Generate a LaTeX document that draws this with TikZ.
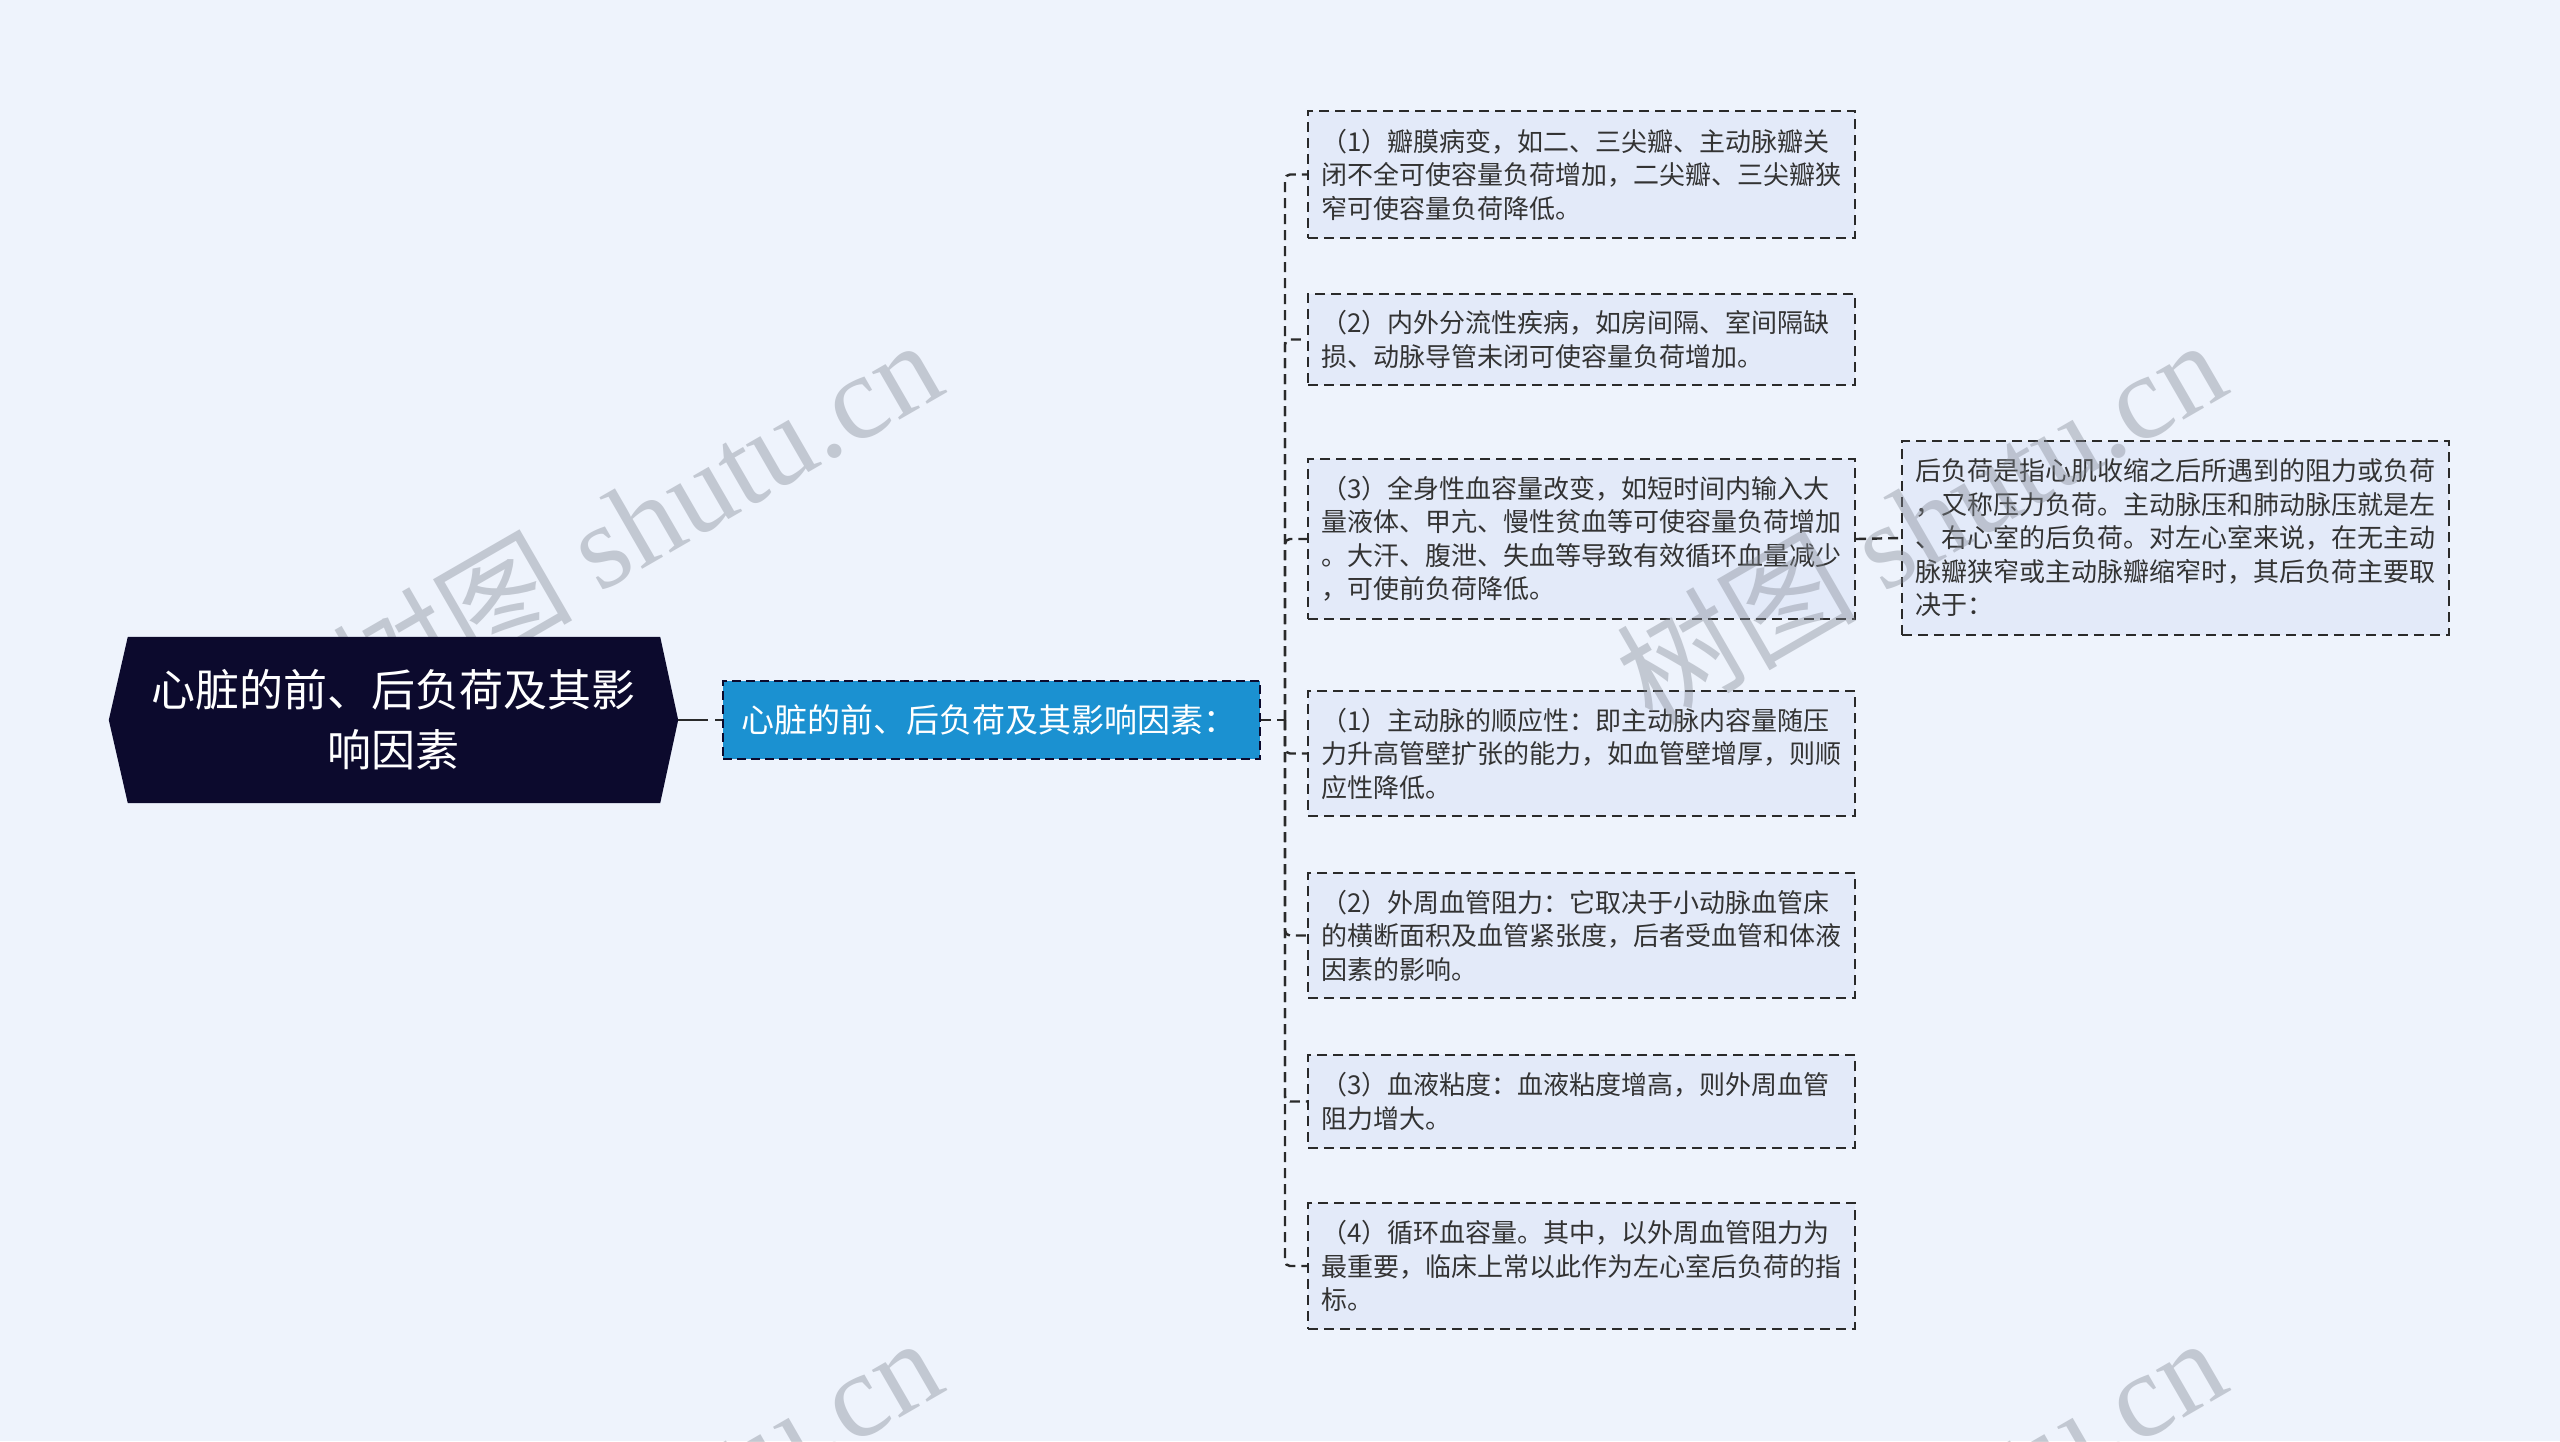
\documentclass[tikz,border=0pt]{standalone}
\usepackage{fontspec}
\setmainfont{Noto Sans CJK SC}
\newfontfamily\wmlatin{Liberation Serif}
\usetikzlibrary{backgrounds}
\definecolor{bgc}{HTML}{EEF3FC}
\definecolor{boxc}{HTML}{E3EAF9}
\definecolor{bordc}{HTML}{2A2A2A}
\definecolor{txtc}{HTML}{333333}
\definecolor{rootc}{HTML}{0C0A2D}
\definecolor{bluec}{HTML}{1B91D1}
\definecolor{wmc}{HTML}{828893}
\tikzset{
  dsh/.style={dash pattern=on 10pt off 6pt},
  leaf/.style={draw=bordc, fill=boxc, line width=2.4pt, dsh, text width=521pt,
    inner xsep=13pt, inner ysep=0pt, align=left, text=txtc,
    font=\fontsize{26}{33.5}\selectfont},
  conn/.style={draw=bordc, line width=2.4pt, dsh},
  wm/.style={text=wmc, text opacity=0.4, font=\fontsize{120}{120}\selectfont, rotate=30, inner sep=0pt}
}
\begin{document}
\begin{tikzpicture}[x=1pt,y=-1pt]
\useasboundingbox (0,0) rectangle (2560,1441);
\begin{pgfonlayer}{background}
\fill[bgc] (0,0) rectangle (2560,1441);
\end{pgfonlayer}
\clip (0,0) rectangle (2560,1441);

% blue node
\node[draw=rootc, fill=bluec, line width=2.4pt, dash pattern=on 9pt off 5pt,
      minimum height=78pt, text width=501pt, inner xsep=18pt, inner ysep=0pt,
      align=left, text=white,
      font=\fontsize{33}{38}\selectfont] (blue) at (991.5,720)
      {心脏的前、后负荷及其影响因素：};

% leaves
\node[leaf, minimum height=127pt] (b1) at (1581.5,174.5)
 {（1）瓣膜病变，如二、三尖瓣、主动脉瓣关\\闭不全可使容量负荷增加，二尖瓣、三尖瓣狭\\窄可使容量负荷降低。};
\node[leaf, minimum height=91pt] (b2) at (1581.5,339.5)
 {（2）内外分流性疾病，如房间隔、室间隔缺\\损、动脉导管未闭可使容量负荷增加。};
\node[leaf, minimum height=160pt] (b3) at (1581.5,539)
 {（3）全身性血容量改变，如短时间内输入大\\量液体、甲亢、慢性贫血等可使容量负荷增加\\。大汗、腹泄、失血等导致有效循环血量减少\\，可使前负荷降低。};
\node[leaf, minimum height=194pt] (after) at (2175.5,538)
 {后负荷是指心肌收缩之后所遇到的阻力或负荷\\，又称压力负荷。主动脉压和肺动脉压就是左\\、右心室的后负荷。对左心室来说，在无主动\\脉瓣狭窄或主动脉瓣缩窄时，其后负荷主要取\\决于：};
\node[leaf, minimum height=125pt] (b4) at (1581.5,753.5)
 {（1）主动脉的顺应性：即主动脉内容量随压\\力升高管壁扩张的能力，如血管壁增厚，则顺\\应性降低。};
\node[leaf, minimum height=125pt] (b5) at (1581.5,935.5)
 {（2）外周血管阻力：它取决于小动脉血管床\\的横断面积及血管紧张度，后者受血管和体液\\因素的影响。};
\node[leaf, minimum height=93pt] (b6) at (1581.5,1101.5)
 {（3）血液粘度：血液粘度增高，则外周血管\\阻力增大。};
\node[leaf, minimum height=126pt] (b7) at (1581.5,1266)
 {（4）循环血容量。其中，以外周血管阻力为\\最重要，临床上常以此作为左心室后负荷的指\\标。};

% watermarks (under the root)
\node[wm] (wm1) at (636,520) {树图 {\wmlatin shutu.cn}};
\node[wm] (wm2) at (1920,520) {树图 {\wmlatin shutu.cn}};
\node[wm] (wm3) at (636,1518) {树图 {\wmlatin shutu.cn}};
\node[wm] (wm4) at (1920,1518) {树图 {\wmlatin shutu.cn}};

% root
\node[minimum width=569pt, minimum height=166pt, inner sep=0pt, text=white,
      align=center, font=\fontsize{44}{60}\selectfont] (root) at (393.5,720)
      {\phantom{心}};
\fill[rootc] (root.west) -- ([xshift=19pt]root.north west) -- ([xshift=-18pt]root.north east)
  -- (root.east) -- ([xshift=-18pt]root.south east) -- ([xshift=19pt]root.south west) -- cycle;
\node[text=white, align=center, inner sep=0pt, font=\fontsize{44}{60}\selectfont]
  (roottext) at (root.center) {心脏的前、后负荷及其影\\响因素};

% connectors
\coordinate (trunk) at (1285,720);
\draw[draw=bordc, line width=2.4pt, dash pattern=on 30pt off 7pt on 8pt off 20pt] (root.east) -- (blue.west);
\draw[conn] (blue.east) -- (trunk);
\foreach \b in {b1,b2,b3,b4,b5,b6,b7}
  \draw[conn, rounded corners=5pt] (trunk) |- (\b.west);
\draw[conn] (b3.east) -- (after.west);
\end{tikzpicture}
\end{document}
